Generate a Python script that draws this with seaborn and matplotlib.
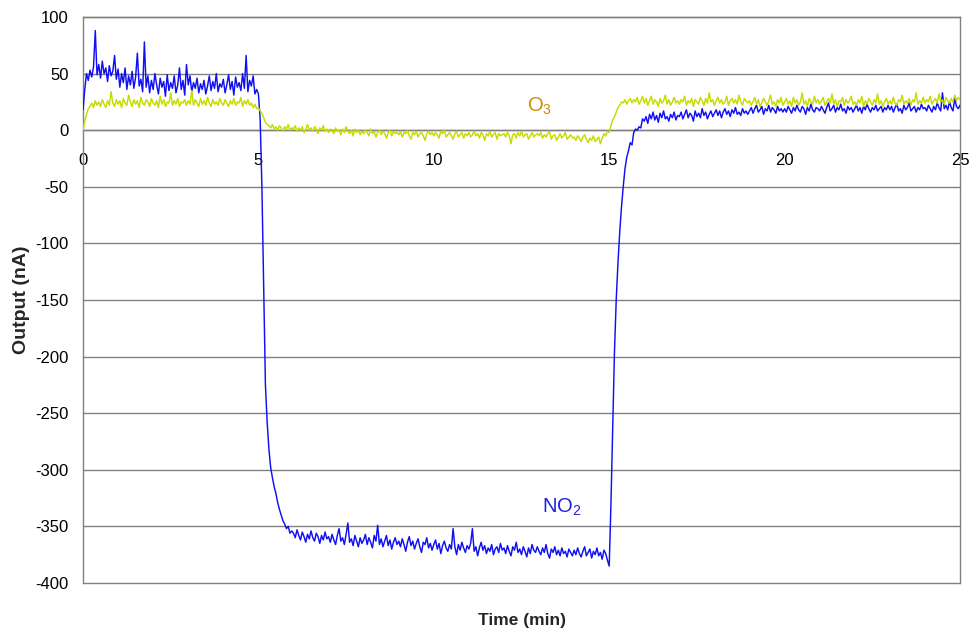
import numpy as np
import pandas as pd
import matplotlib
matplotlib.use("Agg")
import matplotlib.pyplot as plt
import seaborn as sns

# Sensor output sampled every 0.05 min from 0 to 25 min
step = 0.05

no2_nA = [
    18, 36, 50, 44, 53, 47, 56, 88, 49, 58, 46, 61, 50, 55, 43, 57, 48, 52, 66, 45,
    54, 38, 50, 42, 55, 36, 48, 40, 52, 37, 47, 68, 39, 45, 34, 78, 38, 48, 33, 44,
    36, 50, 40, 32, 46, 38, 43, 30, 49, 35, 42, 37, 48, 33, 40, 55, 36, 44, 31, 58,
    40, 48, 34, 42, 37, 46, 33, 41, 36, 44, 32, 39, 48, 35, 43, 37, 50, 34, 41, 38,
    45, 33, 40, 49, 36, 43, 31, 47, 38, 42, 35, 50, 37, 66, 34, 44, 39, 48, 32, 36,
    32, 10, -50, -140, -225, -258, -282, -298, -307, -315, -321, -329, -335, -340, -345, -348, -352, -350, -356, -354,
    -356, -360, -353, -358, -362, -355, -359, -364, -357, -361, -354, -360, -363, -356, -359, -365, -358, -362, -355, -361,
    -359, -364, -357, -362, -366, -358, -352, -363, -360, -366, -357, -347, -364, -361, -367, -358, -363, -368, -360, -365,
    -362, -357, -366, -360, -364, -369, -358, -363, -349, -366, -361, -368, -363, -358, -367, -362, -370, -364, -360, -366,
    -363, -368, -361, -366, -372, -364, -359, -367, -363, -370, -365, -361, -368, -373, -364, -366, -360, -369, -365, -371,
    -366, -362, -370, -365, -374, -367, -363, -369, -372, -366, -370, -352, -368, -375, -366, -371, -364, -369, -373, -367,
    -370, -365, -352, -372, -368, -376, -369, -364, -371, -367, -374, -369, -372, -366, -375, -370, -368, -373, -365, -371,
    -369, -374, -367, -372, -376, -368, -371, -364, -373, -370, -375, -368, -372, -377, -369, -374, -366, -371, -373, -368,
    -372, -375, -369, -373, -366, -374, -378, -370, -373, -368, -375, -371, -376, -369, -374, -372, -377, -370, -373, -376,
    -371, -375, -369, -374, -377, -372, -368, -376, -373, -370, -378, -372, -375, -369, -376, -373, -379, -371, -374, -380,
    -385, -330, -262, -196, -150, -117, -90, -68, -50, -34, -24, -18, -11, -13, -2, 1, 0, 3, 2, 10,
    8, 12, 6, 14, 10, 16, 9, 13, 7, 15, 11, 17, 10, 12, 8, 14, 11, 16, 9, 13,
    12, 16, 10, 14, 18, 11, 15, 13, 8, 17, 12, 15, 11, 19, 13, 16, 10, 14, 17, 12,
    15, 18, 13, 17, 11, 16, 19, 14, 17, 12, 18, 15, 20, 14, 16, 13, 19, 15, 17, 14,
    17, 20, 15, 19, 22, 16, 18, 21, 14, 19, 17, 22, 16, 20, 18, 15, 21, 17, 19, 16,
    19, 16, 21, 18, 15, 20, 17, 22, 18, 16, 21, 19, 14, 20, 17, 23, 18, 16, 20, 19,
    17, 21, 18, 15, 20, 24, 17, 19, 22, 16, 20, 18, 23, 17, 19, 15, 21, 18, 20, 16,
    19, 22, 17, 20, 15, 21, 18, 23, 19, 16, 20, 18, 22, 17, 19, 21, 16, 20, 18, 22,
    18, 21, 16, 20, 23, 17, 19, 15, 22, 18, 20, 24, 17, 19, 21, 16, 20, 18, 23, 19,
    20, 17, 22, 19, 16, 21, 18, 24, 20, 17, 33, 19, 22, 18, 25, 20, 17, 28, 21, 19,
    22,
]

o3_nA = [
    0, 8, 14, 19, 21, 24, 20, 26, 22, 25, 21, 27, 23, 20, 26, 22, 34, 24, 21, 27,
    23, 26, 20, 28, 24, 22, 31, 25, 21, 27, 23, 26, 20, 29, 24, 22, 27, 25, 21, 28,
    24, 22, 26, 20, 30, 23, 27, 21, 25, 24, 33, 22, 26, 23, 28, 21, 25, 24, 27, 22,
    26, 23, 35, 22, 27, 24, 21, 28, 23, 26, 22, 29, 24, 21, 27, 23, 25, 22, 28, 24,
    22, 27, 24, 21, 26, 23, 28, 22, 25, 24, 29, 21, 26, 23, 27, 22, 24, 20, 23, 19,
    20, 17, 15, 11, 7, 5, 4, 2, 5, 1, 3, 0, 4, 2, -1, 3, 1, 5, 0, 2,
    1, 4, -1, 2, 0, 3, -2, 1, 5, 0, 2, -1, 3, 1, -3, 2, 0, 4, -1, 1,
    -2, 1, 0, -3, 2, -1, 0, -4, 1, -2, 3, -1, -3, 0, -5, 1, -2, 0, -4, -1,
    -3, 0, -2, -5, 1, -3, -1, -6, -2, 0, -4, -1, -3, -7, -2, 0, -5, -1, -3, -2,
    -4, -1, -6, -2, -3, 0, -5, -8, -2, -4, -1, -6, -3, -2, -5, -9, -3, -1, -4, -2,
    -5, -2, -4, -7, -1, -3, 0, -6, -4, -2, -5, -8, -3, -1, -6, -4, -2, -7, -3, -5,
    -2, -6, -4, -1, -5, -3, -7, -2, -4, -9, -3, -5, -1, -6, -4, -2, -8, -3, -5, -4,
    -3, -6, -2, -5, -12, -4, -3, -7, -2, -5, -1, -6, -4, -3, -8, -5, -2, -6, -4, -3,
    -5, -2, -7, -4, -6, -3, -1, -8, -5, -4, -9, -6, -3, -7, -5, -2, -8, -6, -4, -7,
    -6, -9, -5, -7, -10, -6, -4, -8, -11, -7, -9, -5, -10, -8, -6, -12, -7, -3, -5, -1,
    -2, 4, 9, 12, 16, 20, 22, 25, 24, 27, 23, 26, 28, 24, 27, 25, 29, 23, 26, 30,
    24, 28, 22, 26, 30, 23, 27, 25, 21, 28, 24, 26, 31, 23, 27, 22, 25, 29, 24, 26,
    23, 27, 25, 30, 22, 26, 24, 28, 21, 27, 25, 23, 29, 26, 22, 28, 24, 33, 25, 27,
    22, 26, 29, 24, 27, 23, 25, 30, 22, 26, 28, 24, 27, 23, 31, 25, 22, 28, 26, 24,
    26, 22, 25, 29, 23, 27, 21, 24, 28, 25, 22, 26, 31, 23, 25, 21, 27, 24, 29, 22,
    25, 28, 23, 26, 21, 29, 24, 27, 22, 25, 33, 23, 26, 21, 28, 25, 23, 30, 24, 27,
    23, 26, 29, 22, 25, 28, 24, 32, 23, 27, 21, 26, 25, 29, 22, 27, 24, 26, 30, 23,
    25, 22, 27, 24, 30, 21, 26, 23, 28, 25, 22, 27, 24, 32, 23, 26, 21, 25, 28, 23,
    26, 23, 29, 24, 22, 27, 25, 31, 23, 26, 24, 28, 22, 27, 25, 33, 23, 26, 24, 29,
    24, 27, 25, 30, 23, 26, 28, 24, 32, 25, 27, 23, 29, 26, 24, 28, 25, 31, 26, 29,
    27,
]

x_ticks = [0, 5, 10, 15, 20, 25]
y_ticks = [-400, -350, -300, -250, -200, -150, -100, -50, 0, 50, 100]

time_min = np.round(np.arange(len(no2_nA)) * step, 2)
df = pd.DataFrame({"Time": time_min, "NO2": no2_nA, "O3": o3_nA})

sns.set_style("white")
plt.rcParams["font.family"] = ["Liberation Sans", "DejaVu Sans"]
plt.rcParams["axes.unicode_minus"] = False
plt.rcParams["mathtext.fontset"] = "custom"
plt.rcParams["mathtext.rm"] = "Liberation Sans"
plt.rcParams["mathtext.it"] = "Liberation Sans"

W, H = 971, 632
fig = plt.figure(figsize=(W / 100, H / 100), dpi=100)
x0, x1, y0, y1 = 83, 960, 17, 583
ax = fig.add_axes([x0 / W, 1 - y1 / H, (x1 - x0) / W, (y1 - y0) / H])

grid_c = "#808080"
sns.lineplot(data=df, x="Time", y="NO2", ax=ax, color="#1010f2", lw=1.05,
             estimator=None, sort=False, zorder=3)
sns.lineplot(data=df, x="Time", y="O3", ax=ax, color="#c4dc00", lw=1.05,
             estimator=None, sort=False, zorder=4)

ax.set_xlim(0, 25)
ax.set_ylim(-400, 100)
ax.set_xticks(x_ticks)
ax.set_yticks(y_ticks)
ax.set_xticklabels([str(v) for v in x_ticks])
ax.set_yticklabels([str(v) for v in y_ticks])
ax.set_xlabel("")
ax.set_ylabel("")

ax.yaxis.grid(True, color=grid_c, lw=1.0, zorder=1)
ax.xaxis.grid(False)
ax.set_axisbelow(True)
for gl in ax.get_ygridlines():
    gl.set_clip_on(False)

for side in ["left", "right", "top", "bottom"]:
    ax.spines[side].set_visible(True)
    ax.spines[side].set_color(grid_c)
    ax.spines[side].set_linewidth(1.0)
ax.spines["bottom"].set_position(("data", 0))

ax.tick_params(axis="x", direction="out", length=4.5, width=1.0, color=grid_c,
               pad=12, labelsize=12, labelcolor="black")
ax.tick_params(axis="y", length=0, pad=10.5, labelsize=12, labelcolor="black")

ax.text(12.65, 16, r"O$_{3}$", color="#d08c00", fontsize=14.5, ha="left",
        va="baseline", zorder=5)
ax.text(13.08, -338, r"NO$_{2}$", color="#2020e0", fontsize=14.5, ha="left",
        va="baseline", zorder=5)

fig.text(21 / W, 1 - 300 / H, "Output (nA)", rotation=90, ha="center",
         va="center", fontsize=14, fontweight="bold")
fig.text(522 / W, 1 - 620 / H, "Time (min)", ha="center", va="center",
         fontsize=12.5, fontweight="bold")

fig.savefig("out.png", dpi=100, facecolor="white")
